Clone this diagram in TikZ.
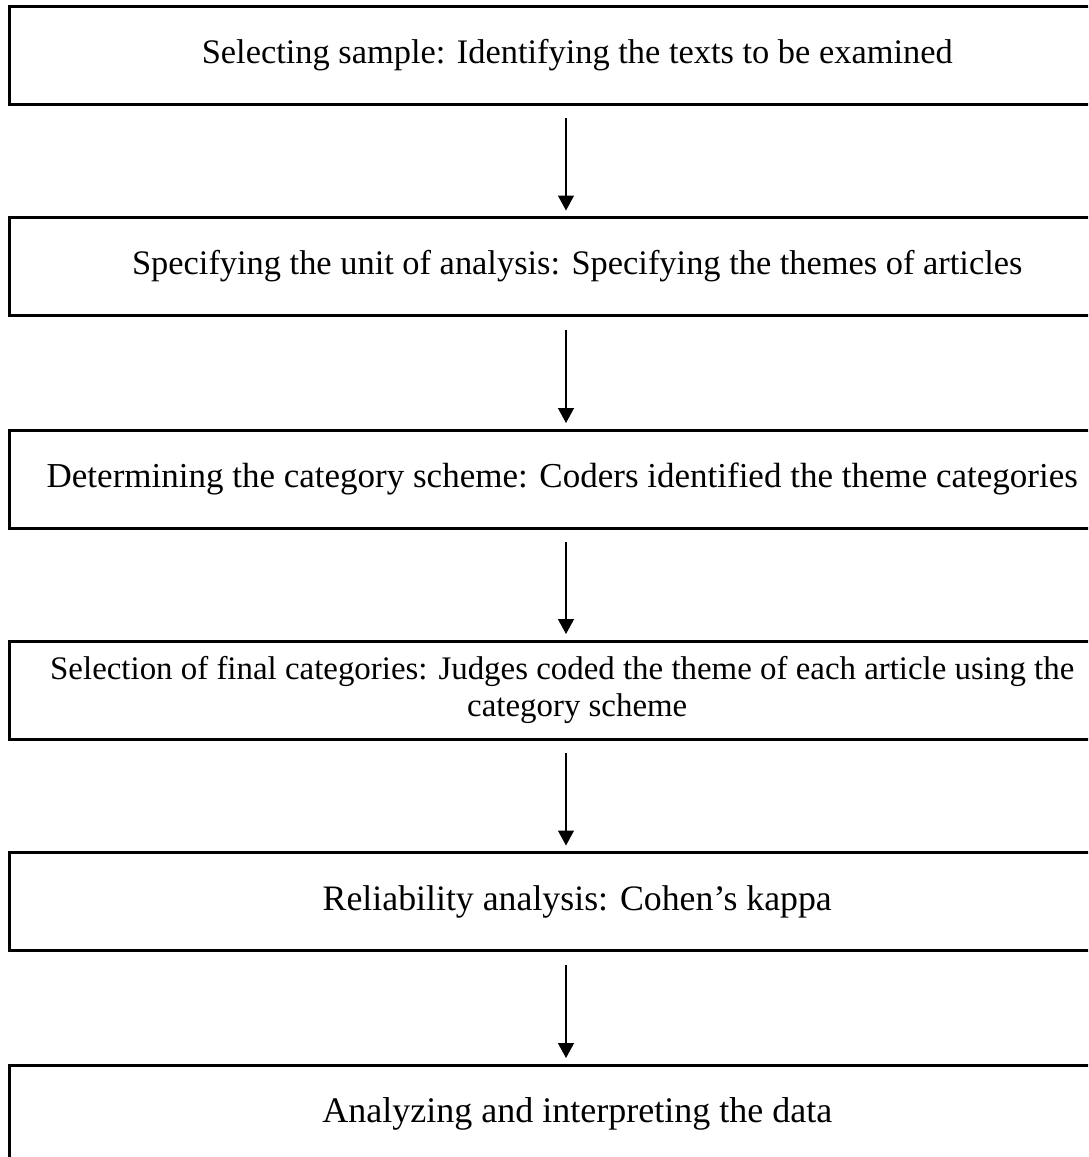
\documentclass[tikz,border=0pt]{standalone}
\usepackage{fontspec}
\setmainfont{Liberation Serif}
\usetikzlibrary{arrows.meta}
\begin{document}
\begin{tikzpicture}[x=1pt,y=-1pt,
  stagebox/.style={draw=black, line width=3pt, rectangle, outer sep=0pt,
    minimum width=1135.5pt, minimum height=98pt, inner sep=0pt,
    align=center, font=\fontsize{34.4}{40}\selectfont},
  fs/.style={font=\fontsize{#1}{37}\selectfont},
  flow/.style={-{Triangle[width=16pt,length=15pt]}, line width=1.3pt,
    shorten <=14pt, shorten >=7pt}]
\useasboundingbox (0,0) rectangle (1088,1157);
\clip (0,0) rectangle (1088,1157);
\node[stagebox] (b1) at (577.25,55) {Selecting sample: Identifying the texts to be examined};
\node[stagebox] (b2) at (577.25,266.5) {Specifying the unit of analysis: Specifying the themes of articles};
\node[stagebox, fs=35] (b3) at (577.25,479) {Determining the category scheme: Coders identified the theme categories\hspace*{30pt}};
\node[stagebox, fs=32.9] (b4) at (577.25,690) {Selection of final categories: Judges coded the theme of each article using the\hspace*{30pt}\\category scheme};
\node[stagebox, fs=35.8] (b5) at (577.25,901.5) {Reliability analysis: Cohen’s kappa};
\node[stagebox, fs=36] (b6) at (577.25,1114) {Analyzing and interpreting the data};
\foreach \a/\b in {b1/b2,b2/b3,b3/b4,b4/b5,b5/b6}
  \draw[flow] ([xshift=-11.25pt]\a.south) -- ([xshift=-11.25pt]\b.north);
\end{tikzpicture}
\end{document}
